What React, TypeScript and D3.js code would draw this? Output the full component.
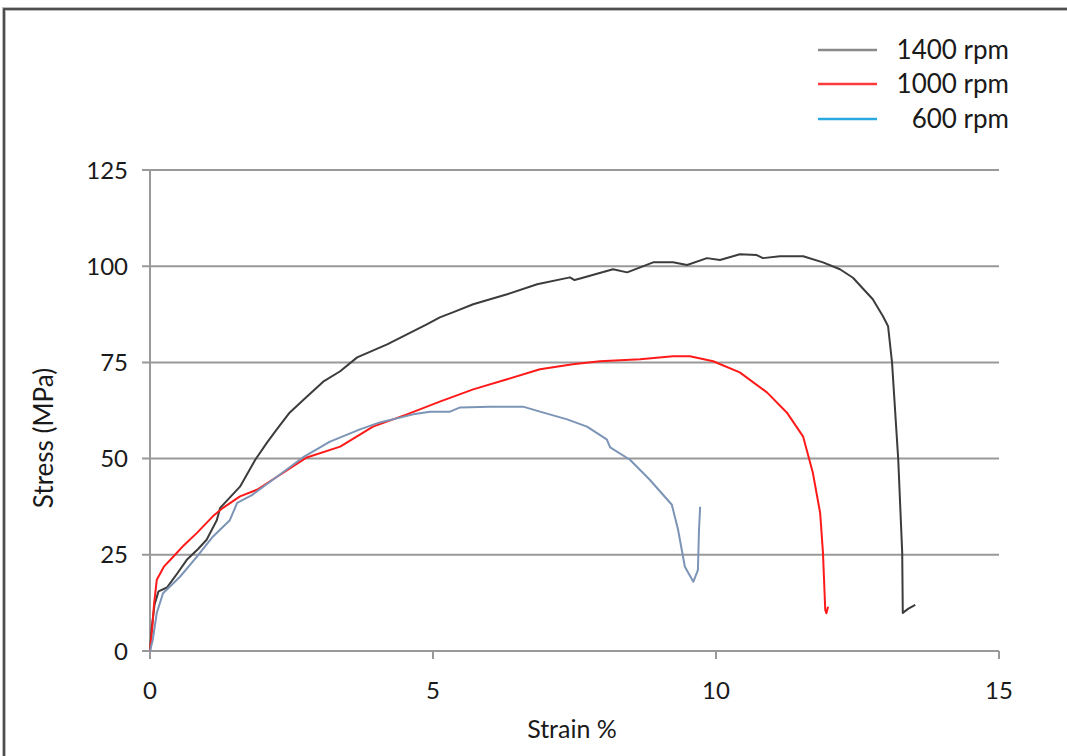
import React from "react";
import * as d3 from "d3";

// strain (%) and stress (MPa)
const strain1400 = [0, 0.03, 0.08, 0.15, 0.3, 0.45, 0.65, 0.85, 1.0, 1.18, 1.24, 1.59, 1.86, 2.07, 2.24, 2.47, 2.77, 3.06, 3.36, 3.66, 4.19, 4.54, 4.89, 5.12, 5.35, 5.71, 6.31, 6.84, 7.42, 7.5, 7.6, 8.18, 8.43, 8.89, 9.24, 9.49, 9.84, 10.07, 10.42, 10.72, 10.83, 11.13, 11.54, 11.89, 12.19, 12.42, 12.77, 12.95, 13.04, 13.11, 13.22, 13.29, 13.3, 13.4, 13.52];
const stress1400 = [0, 6, 12, 15.5, 16.5, 19.5, 23.7, 26.5, 28.9, 34, 37.2, 42.7, 49.7, 54.2, 57.6, 62, 66.1, 70, 72.7, 76.3, 79.7, 82.3, 84.9, 86.7, 88, 90.1, 92.7, 95.3, 97.1, 96.4, 96.8, 99.2, 98.4, 101, 101, 100.3, 102.1, 101.6, 103.1, 102.9, 102.1, 102.6, 102.6, 101, 99.2, 97, 91.4, 87, 84.4, 75, 49.7, 25.5, 9.9, 11, 12];

const strain1000 = [0, 0.02, 0.04, 0.07, 0.12, 0.25, 0.41, 0.6, 0.83, 1.11, 1.29, 1.59, 1.89, 2.3, 2.77, 3.36, 3.94, 4.54, 5.12, 5.71, 6.31, 6.89, 7.47, 7.95, 8.66, 9.24, 9.54, 9.95, 10.42, 10.9, 11.25, 11.54, 11.71, 11.84, 11.89, 11.93, 11.95, 11.98];
const stress1000 = [0, 3, 6, 12, 18.5, 22, 24.5, 27.5, 30.7, 35, 37.2, 40.2, 41.9, 45.8, 50.3, 53.1, 58.3, 61.5, 64.8, 68, 70.6, 73.2, 74.5, 75.3, 75.8, 76.6, 76.6, 75.3, 72.4, 67.2, 62, 55.7, 46.4, 35.9, 25.5, 10.7, 9.8, 11.5];

const strain600 = [0, 0.05, 0.12, 0.23, 0.53, 0.83, 1.11, 1.41, 1.54, 1.8, 2.17, 2.7, 3.18, 3.71, 4.06, 4.65, 4.95, 5.3, 5.48, 6.0, 6.59, 6.89, 7.37, 7.72, 8.07, 8.13, 8.48, 8.83, 9.22, 9.33, 9.45, 9.6, 9.68, 9.7, 9.72];
const stress600 = [0, 3, 9.9, 15, 19.3, 24.5, 29.7, 34, 38.5, 40.5, 44.5, 50.3, 54.4, 57.6, 59.4, 61.5, 62.2, 62.2, 63.3, 63.5, 63.5, 62.2, 60.2, 58.3, 55, 52.9, 49.7, 44.5, 38, 31.5, 21.9, 18, 21, 31.5, 37.5];

const xTicks = [0, 5, 10, 15];
const yTicks = [0, 25, 50, 75, 100, 125];

const seriesNames = ["1400 rpm", "1000 rpm", "600 rpm"];
const curveColors = ["#3c3c3c", "#ff1a1a", "#7c94b6"];
const legendColors = ["#8a8a8a", "#ff3a3a", "#2aa8e0"];

const font = "Lato, 'Open Sans', sans-serif";

export default function App() {
  const width = 1067;
  const height = 756;
  const left = 150;
  const right = 999;
  const top = 170;
  const bottom = 651;

  const x = d3.scaleLinear().domain([0, 15]).range([left, right]);
  const y = d3.scaleLinear().domain([0, 125]).range([bottom, top]);

  const line = d3
    .line<[number, number]>()
    .x((d) => x(d[0]))
    .y((d) => y(d[1]));

  const series = [
    d3.zip(strain1400, stress1400) as [number, number][],
    d3.zip(strain1000, stress1000) as [number, number][],
    d3.zip(strain600, stress600) as [number, number][],
  ];

  const legendY = [50, 84, 119];

  return (
    <svg
      width={width}
      height={height}
      style={{ position: "absolute", left: 0, top: 0, background: "#fff" }}
    >
      <rect x={0} y={0} width={width} height={height} fill="#fff" />
      {/* frame */}
      <rect x={4} y={9} width={1100} height={800} fill="none" stroke="#bbb" strokeWidth={4} />
      <rect x={4} y={9} width={1100} height={800} fill="none" stroke="#333" strokeWidth={1.6} />

      {/* grid */}
      {yTicks.map((t) => (
        <g key={t}>
          <line x1={left - 8} x2={right} y1={y(t)} y2={y(t)} stroke="#999" strokeWidth={2} />
          <text
            x={128}
            y={y(t)}
            dy="0.36em"
            textAnchor="end"
            fontFamily={font}
            fontSize={24}
            fill="#1a1a1a"
          >
            {t}
          </text>
        </g>
      ))}
      <line x1={left} x2={left} y1={top} y2={bottom} stroke="#999" strokeWidth={2} />
      {xTicks.map((t) => (
        <g key={t}>
          <line x1={x(t)} x2={x(t)} y1={bottom} y2={bottom + 8} stroke="#999" strokeWidth={2} />
          <text
            x={x(t)}
            y={699}
            textAnchor="middle"
            fontFamily={font}
            fontSize={24}
            fill="#1a1a1a"
          >
            {t}
          </text>
        </g>
      ))}

      {/* axis titles */}
      <text x={572} y={738} textAnchor="middle" fontFamily={font} fontSize={25} fill="#1a1a1a">
        Strain %
      </text>
      <text
        transform="translate(53,438) rotate(-90)"
        textAnchor="middle"
        fontFamily={font}
        fontSize={26}
        fill="#1a1a1a"
      >
        Stress (MPa)
      </text>

      {/* curves */}
      {series.map((s, i) => (
        <path
          key={i}
          d={line(s) ?? ""}
          fill="none"
          stroke={curveColors[i]}
          strokeWidth={2}
          strokeLinejoin="round"
        />
      ))}

      {/* legend */}
      {seriesNames.map((n, i) => (
        <g key={n}>
          <line x1={818} x2={877} y1={legendY[i]} y2={legendY[i]} stroke={legendColors[i]} strokeWidth={2.5} />
          <text
            x={1009}
            y={legendY[i]}
            dy="0.36em"
            textAnchor="end"
            fontFamily={font}
            fontSize={26}
            fill="#1a1a1a"
          >
            {n}
          </text>
        </g>
      ))}
    </svg>
  );
}
